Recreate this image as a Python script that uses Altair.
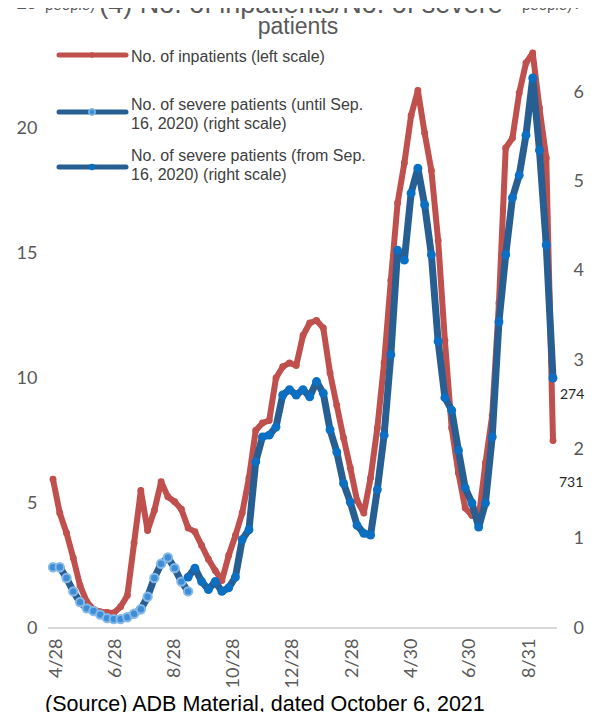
import altair as alt
import pandas as pd

# ---------------- data ----------------
start = pd.Timestamp("2020-04-24")
n_weeks = 75
dates = [start + pd.Timedelta(days=7 * i) for i in range(n_weeks)]

# No. of inpatients (thousand people, left scale)
inpatients = [5.95, 4.6, 3.8, 2.8, 1.7, 1.05, 0.75, 0.65, 0.62, 0.6,
              0.85, 1.3, 3.4, 5.5, 3.9, 4.7, 5.85, 5.25, 5.05, 4.75,
              4.0, 3.85, 3.3, 2.75, 2.3, 1.9, 2.9, 3.7, 4.6, 6.0,
              7.9, 8.2, 8.3, 10.0, 10.45, 10.6, 10.5, 11.7, 12.2, 12.3,
              12.0, 10.2, 8.9, 7.6, 6.4, 5.1, 4.6, 6.0, 8.0, 10.6,
              13.9, 17.0, 18.6, 20.5, 21.5, 19.8, 18.3, 15.5, 11.5, 8.0,
              6.2, 4.8, 4.5, 4.4, 6.6, 8.5, 13.0, 19.2, 19.6, 21.4,
              22.6, 23.0, 20.8, 18.8, 7.5]

# No. of severe patients until Sep. 16, 2020 (thousand people, right scale)
severe_until = [0.68, 0.68, 0.56, 0.41, 0.29, 0.22, 0.19, 0.15, 0.11, 0.10,
                0.10, 0.12, 0.16, 0.21, 0.35, 0.56, 0.72, 0.79, 0.67, 0.52,
                0.41]

# No. of severe patients from Sep. 16, 2020 (thousand people, right scale)
severe_from = [0.57, 0.67, 0.52, 0.43, 0.52, 0.41, 0.45, 0.57, 0.99, 1.10,
               1.86, 2.14, 2.16, 2.25, 2.61, 2.67, 2.61, 2.67, 2.59, 2.76,
               2.63, 2.22, 1.97, 1.62, 1.41, 1.15, 1.06, 1.04, 1.55, 2.16,
               3.06, 4.23, 4.12, 4.87, 5.15, 4.74, 4.18, 3.21, 2.58, 2.44,
               1.99, 1.57, 1.40, 1.13, 1.40, 2.14, 3.43, 4.18, 4.82, 5.07,
               5.52, 6.16, 5.35, 4.29, 2.80]

left_ticks = [0, 5, 10, 15, 20, 25]
right_ticks = [0, 1, 2, 3, 4, 5, 6, 7]
x_tick_dates = [(2020, 4, 28), (2020, 6, 28), (2020, 8, 28), (2020, 10, 28),
                (2020, 12, 28), (2021, 2, 28), (2021, 4, 30), (2021, 6, 30),
                (2021, 8, 31)]

df_red = pd.DataFrame({"date": dates, "value": inpatients})
df_until = pd.DataFrame({"date": dates[:len(severe_until)], "value": severe_until})
df_from = pd.DataFrame({"date": dates[len(severe_until) - 1:], "value": severe_from})
df_red_last = df_red.tail(1).assign(label="731")
df_from_last = df_from.tail(1).assign(label="274")
one = pd.DataFrame({"a": [0]})

# ---------------- styles ----------------
RED = "#C0504D"
BLUE_LINE = "#275F93"
BLUE_DOT = "#0B6FC3"
LIGHT_DOT = "#3D8ED6"
LIGHT_RING = "#86B9E8"
GRAY = "#595959"
AX_FONT = "Lato"
TXT_FONT = "Liberation Sans"

x_scale = alt.Scale(domain=[alt.DateTime(year=2020, month=4, date=18, hours=19, minutes=41),
                            alt.DateTime(year=2021, month=9, date=28, hours=3, minutes=20)])
x_axis = alt.Axis(values=[alt.DateTime(year=y, month=m, date=d) for (y, m, d) in x_tick_dates],
                  format="%-m/%-d", labelAngle=270, labelFont=AX_FONT, labelFontSize=18,
                  labelColor=GRAY, labelPadding=10, ticks=False, domain=False, grid=False,
                  labelOverlap=False, title=None)
X = alt.X("date:T", scale=x_scale, axis=x_axis)

left_axis = alt.Axis(values=left_ticks, orient="left", grid=False, domain=False, format="d",
                     ticks=False, labelFont=AX_FONT, labelFontSize=18,
                     labelColor=GRAY, labelPadding=11, title=None)
right_axis = alt.Axis(values=right_ticks, orient="right", grid=False, domain=False, format="d",
                      ticks=False, labelFont=AX_FONT, labelFontSize=18,
                      labelColor=GRAY, labelPadding=16, title=None)
left_y = alt.Y("value:Q", scale=alt.Scale(domain=[0, 25], nice=False, zero=True), axis=left_axis)
right_y = alt.Y("value:Q", scale=alt.Scale(domain=[0, 7], nice=False, zero=True), axis=right_axis)

# ---------------- left-scale group ----------------
zero_rule = alt.Chart(one).mark_rule(color="#D9D9D9", strokeWidth=2).encode(
    x=alt.value(0), x2=alt.value(509), y=alt.datum(0, type="quantitative", axis=left_axis,
                                                   scale=alt.Scale(domain=[0, 25], nice=False)))
red_line = alt.Chart(df_red).mark_line(color=RED, strokeWidth=6, strokeJoin="round",
                                       strokeCap="round").encode(x=X, y=left_y)
red_pts = alt.Chart(df_red).mark_circle(color=RED, size=48, opacity=1).encode(x=X, y=left_y)
red_lab = alt.Chart(df_red_last).mark_text(align="left", baseline="middle", dx=6, dy=42,
                                           font=AX_FONT, fontSize=14, color="#262626").encode(
    x=X, y=left_y, text="label:N")
left_group = alt.layer(zero_rule, red_line, red_pts, red_lab)

# ---------------- right-scale group ----------------
until_line = alt.Chart(df_until).mark_line(color=BLUE_LINE, strokeWidth=7, strokeJoin="round",
                                           strokeCap="round").encode(x=X, y=right_y)
until_pts = alt.Chart(df_until).mark_point(filled=True, fill=LIGHT_DOT, stroke=LIGHT_RING,
                                           strokeWidth=2, size=70, opacity=1).encode(x=X, y=right_y)
from_line = alt.Chart(df_from).mark_line(color=BLUE_LINE, strokeWidth=7, strokeJoin="round",
                                         strokeCap="round").encode(x=X, y=right_y)
from_pts = alt.Chart(df_from).mark_circle(color=BLUE_DOT, size=80, opacity=1).encode(x=X, y=right_y)
blue_lab = alt.Chart(df_from_last).mark_text(align="left", baseline="middle", dx=7, dy=17,
                                             font=AX_FONT, fontSize=14, color="#262626").encode(
    x=X, y=right_y, text="label:N")
right_group = alt.layer(until_line, until_pts, from_line, from_pts, blue_lab)


# ---------------- decorations (title, legend, source) ----------------
def txt(s, x, y, size, color="#404040", font=TXT_FONT, align="left"):
    return alt.Chart(one).mark_text(text=s, fontSize=size, font=font, color=color,
                                    align=align, baseline="alphabetic").encode(
        x=alt.value(x), y=alt.value(y))


def leg_symbol(y, line_color, dot_color, dot_size, ring=None):
    line = alt.Chart(one).mark_rule(color=line_color, strokeWidth=5, strokeCap="round").encode(
        x=alt.value(11), x2=alt.value(78), y=alt.value(y))
    if ring:
        dot = alt.Chart(one).mark_point(filled=True, fill=dot_color, stroke=ring, strokeWidth=1.5,
                                        size=dot_size, opacity=1).encode(x=alt.value(44), y=alt.value(y))
    else:
        dot = alt.Chart(one).mark_circle(color=dot_color, size=dot_size, opacity=1).encode(
            x=alt.value(44), y=alt.value(y))
    return [line, dot]


deco = [
    txt("(4) No. of inpatients/No. of severe", 253, 10, 27, GRAY, align="center"),
    txt("patients", 250, 31, 23, GRAY, align="center"),
    txt("people)", -3, 7, 15, GRAY),
    txt("people)", 474, 7, 15, GRAY),
    *leg_symbol(52, RED, RED, 30),
    txt("No. of inpatients (left scale)", 83, 59, 16),
    *leg_symbol(109, BLUE_LINE, LIGHT_DOT, 40, ring=LIGHT_RING),
    txt("No. of severe patients (until Sep.", 83, 107, 16),
    txt("16, 2020) (right scale)", 83, 126, 16),
    *leg_symbol(164, BLUE_LINE, BLUE_DOT, 40),
    txt("No. of severe patients (from Sep.", 83, 158, 16),
    txt("16, 2020) (right scale)", 83, 177, 16),
    txt("(Source) ADB Material, dated October 6, 2021", -3, 708, 21.5, "#000000"),
]

chart = alt.layer(left_group, right_group, *deco).resolve_scale(y="independent").properties(
    width=509, height=625,
    padding={"left": 40, "top": -5, "right": 28, "bottom": 84},
    autosize=alt.AutoSizeParams(type="none"),
).configure_view(stroke=None)

chart.save("out.html", embed_options={"renderer": "svg", "actions": False})
